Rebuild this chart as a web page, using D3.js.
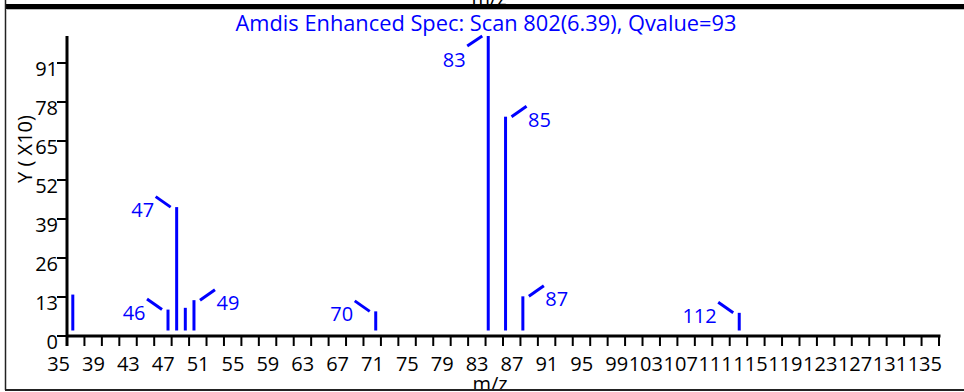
<!DOCTYPE html>
<html><head><meta charset="utf-8">
<script src="https://cdn.jsdelivr.net/npm/d3@7"></script>
<style>html,body{margin:0;padding:0;background:#fff;}svg{display:block;}</style>
</head><body>
<script>
// ---- data ----
const titleText = "Amdis Enhanced Spec: Scan 802(6.39), Qvalue=93";
const xLabel = "m/z";
const yLabel = "Y ( X10)";
const mz =        [35,   46,  47,   48,  49,   70,  83,  85,   87,   112];
const intensity = [12.2, 7.1, 41.9, 7.7, 10.3, 6.5, 100, 72.6, 11.6, 6.0];
const labeledMz = [46, 47, 49, 70, 83, 85, 87, 112];
const labelSide = ["left", "left", "right", "left", "left", "right", "right", "left"];
const yTicks = [0, 13, 26, 39, 52, 65, 78, 91];
const xMinorTicks = [35,37,39,41,43,45,47,49,51,53,55,57,59,61,63,65,67,69,71,73,75,77,79,81,83,85,87,89,91,93,95,97,99,101,103,105,107,109,111,113,115,117,119,121,123,125,127,129,131,133,135];
const xTickLabels = [35,39,43,47,51,55,59,63,67,71,75,79,83,87,91,95,99,103,107,111,115,119,123,127,131,135];

const W = 964, H = 392;
const BLUE = "#0000ff";
const FONT = "'Open Sans', sans-serif";

const svg = d3.select("body").append("svg").attr("width", W).attr("height", H)
  .style("font-family", FONT);

// axis scales
const xAxisScale = d3.scaleLinear().domain([35, 135]).range([67, 939]);
const yAxisScale = d3.scaleLinear().domain([0, 100]).range([336, 36]);
// data scales (peaks are drawn slightly offset as in the original)
const xData = d3.scaleLinear().domain([35, 135]).range([72.8, 938.3]);
const yData = d3.scaleLinear().domain([0, 100]).range([330.5, 36]);

// frame
svg.append("text").attr("x", 489).attr("y", 5).attr("text-anchor", "middle")
  .attr("font-size", 20).attr("fill", "#000").text(xLabel);
svg.append("rect").attr("x", 6).attr("y", 4).attr("width", W - 6).attr("height", 5).attr("fill", "#000");
svg.append("line").attr("x1", 7).attr("x2", W).attr("y1", 9.5).attr("y2", 9.5).attr("stroke", "#bbb").attr("stroke-width", 1);
svg.append("line").attr("x1", 5.5).attr("x2", 5.5).attr("y1", 0).attr("y2", H).attr("stroke", "#222").attr("stroke-width", 1.5);

// title
svg.append("text").attr("x", 486).attr("y", 31).attr("text-anchor", "middle")
  .attr("font-size", 21.8).attr("fill", BLUE).text(titleText);

// y axis
svg.append("line").attr("x1", 67).attr("x2", 67).attr("y1", yAxisScale(100)).attr("y2", 346)
  .attr("stroke", "#000").attr("stroke-width", 3);
const yt = svg.append("g");
yt.selectAll("line").data(yTicks).join("line")
  .attr("x1", 57).attr("x2", 67)
  .attr("y1", d => yAxisScale(d)).attr("y2", d => yAxisScale(d))
  .attr("stroke", "#000").attr("stroke-width", 2);
yt.selectAll("text").data(yTicks).join("text")
  .attr("x", 58).attr("y", d => yAxisScale(d) + 12.5)
  .attr("text-anchor", "end").attr("font-size", 20).attr("fill", "#000")
  .text(d => d);

// x axis
svg.append("line").attr("x1", 66).attr("x2", 940.5).attr("y1", 336).attr("y2", 336)
  .attr("stroke", "#000").attr("stroke-width", 3);
const xt = svg.append("g");
xt.selectAll("line").data(xMinorTicks).join("line")
  .attr("x1", d => xAxisScale(d)).attr("x2", d => xAxisScale(d))
  .attr("y1", 335).attr("y2", 346)
  .attr("stroke", "#000").attr("stroke-width", 2);
xt.selectAll("text").data(xTickLabels).join("text")
  .attr("x", d => xAxisScale(d) + 3).attr("y", 371)
  .attr("text-anchor", "end").attr("font-size", 20).attr("fill", "#000")
  .text(d => d);

// axis titles
svg.append("text").attr("transform", "translate(32,149) rotate(-90)")
  .attr("text-anchor", "middle").attr("font-size", 20).attr("fill", "#000").text(yLabel);
svg.append("text").attr("x", 490).attr("y", 391).attr("text-anchor", "middle")
  .attr("font-size", 20).attr("fill", "#000").text(xLabel);

// bottom border
svg.append("rect").attr("x", 0).attr("y", 390).attr("width", W).attr("height", 2).attr("fill", "#fff");
svg.append("line").attr("x1", 5).attr("x2", W).attr("y1", 390).attr("y2", 390).attr("stroke", "#222").attr("stroke-width", 2);

// peaks
const peaks = mz.map((m, i) => ({ mz: m, v: intensity[i] }));
svg.append("g").selectAll("line").data(peaks).join("line")
  .attr("x1", d => xData(d.mz)).attr("x2", d => xData(d.mz))
  .attr("y1", yData(0)).attr("y2", d => yData(d.v))
  .attr("stroke", BLUE).attr("stroke-width", 3);

// peak labels with connectors
const labs = labeledMz.map((m, i) => {
  const v = intensity[mz.indexOf(m)];
  return { mz: m, v, side: labelSide[i] };
});
const lg = svg.append("g");
labs.forEach(d => {
  const px = xData(d.mz), py = yData(d.v);
  const s = d.side === "left" ? -1 : 1;
  const down = py < 60; // near the top: label goes below
  const x1 = px + s * 6, y1 = py;
  const x2 = px + s * 21, y2 = down ? py + 10 : py - 10.5;
  lg.append("line").attr("x1", x1).attr("y1", y1).attr("x2", x2).attr("y2", y2)
    .attr("stroke", BLUE).attr("stroke-width", 3);
  lg.append("text")
    .attr("x", px + s * 22.5)
    .attr("y", down ? py + 30.5 : py + 10)
    .attr("text-anchor", d.side === "left" ? "end" : "start")
    .attr("font-size", 20).attr("fill", BLUE).text(d.mz);
});
</script>
</body></html>
